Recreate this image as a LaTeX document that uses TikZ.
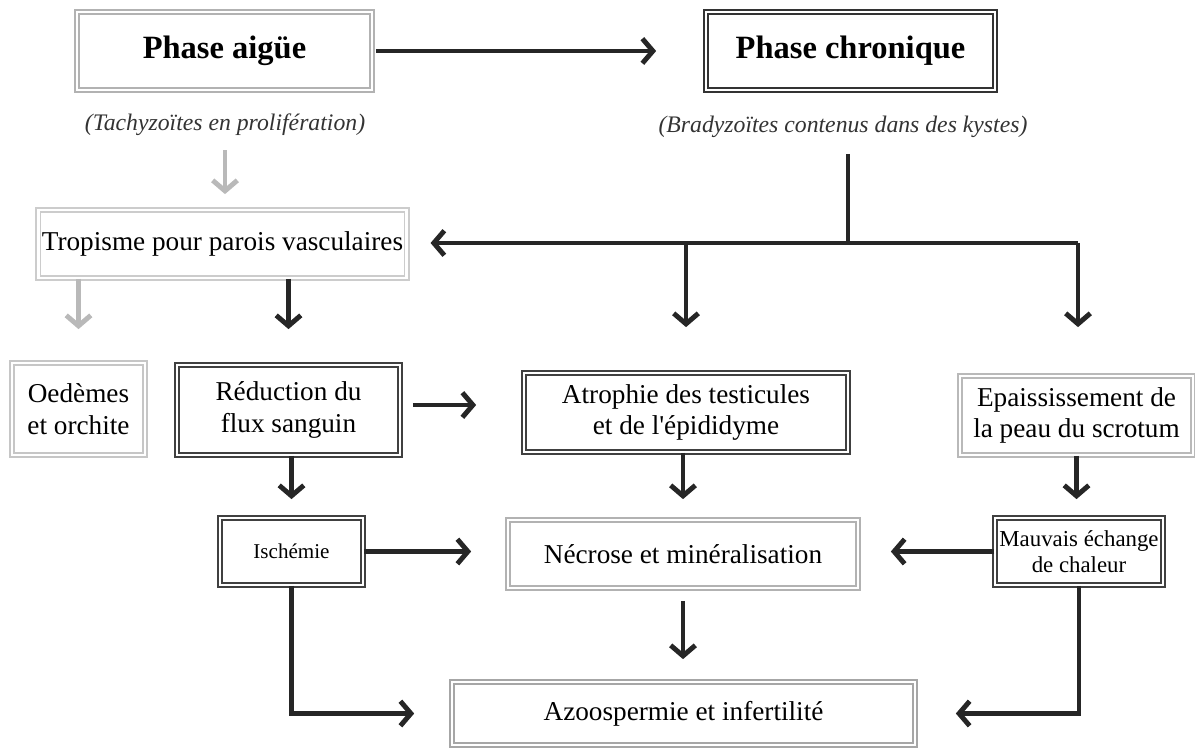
\documentclass[tikz,border=0pt]{standalone}
\usepackage{fontspec}
\setmainfont{Liberation Serif}
\usetikzlibrary{arrows.meta}

\tikzset{
  box/.style={draw=#1, double=white, double distance=1.4pt, line width=1pt,
    fill=white, align=center, inner sep=2pt, font=\fontsize{15.5}{18}\selectfont},
  box/.default=black!75,
  title/.style={font=\fontsize{18.5}{20}\selectfont\bfseries},
  arr/.style={line width=2.8pt, black!85, -{Straight Barb[length=6pt,width=14pt]}},
  garr/.style={arr, gray!55},
  ln/.style={line width=2.8pt, black!85},
}

\begin{document}
\begin{tikzpicture}[x=0.02cm, y=-0.02cm]
  \useasboundingbox (0,0) rectangle (1195,749);

  % phases
  \node[box=gray!60, title, minimum width=5.9cm, minimum height=1.56cm]
    (aigue) at (224.5,51) {Phase aigüe};
  \node[box=black!80, title, minimum width=5.78cm, minimum height=1.56cm]
    (chron) at (850.5,51) {Phase chronique};
  \node[font=\fontsize{13.5}{15}\selectfont\itshape, text=black!80]
    (tach) at (225,125) {(Tachyzoïtes en prolifération)};
  \node[font=\fontsize{13.5}{15}\selectfont\itshape, text=black!80]
    (brad) at (843,127) {(Bradyzoïtes contenus dans des kystes)};

  % boxes
  \node[box=gray!40, minimum width=7.3cm, minimum height=1.36cm]
    (trop) at (222.5,244) {Tropisme pour parois vasculaires};
  \node[box=gray!45, minimum width=2.66cm, minimum height=1.84cm]
    (oed) at (78.5,409) {Oedèmes\\et orchite};
  \node[box, minimum width=4.46cm, minimum height=1.8cm]
    (red) at (288.5,410) {Réduction du\\flux sanguin};
  \node[box, minimum width=6.48cm, minimum height=1.58cm]
    (atro) at (686,412.5) {Atrophie des testicules\\et de l\textquotesingle épididyme};
  \node[box=gray!55, minimum width=4.66cm, minimum height=1.58cm]
    (epai) at (1076.5,415.5) {Epaississement de\\la peau du scrotum};
  \node[box, minimum width=2.86cm, minimum height=1.34cm, font=\fontsize{12}{14}\selectfont]
    (isch) at (291.5,551.5) {Ischémie};
  \node[box=gray!60, minimum width=7cm, minimum height=1.36cm]
    (necr) at (683,554) {Nécrose et minéralisation};
  \node[box, minimum width=3.36cm, minimum height=1.34cm, font=\fontsize{13}{15}\selectfont, inner sep=1pt]
    (mauv) at (1079,551.5) {Mauvais échange\\de chaleur};
  \node[box=gray!70, minimum width=9.26cm, minimum height=1.26cm]
    (azoo) at (683.5,713.5) {Azoospermie et infertilité};

  \coordinate (jn) at (848,243);
  \coordinate (jr) at (1078,243);

  % connectors
  \draw[arr, shorten <=0.06cm, shorten >=0.98cm] (aigue) -- (chron);
  \draw[garr, shorten <=0.16cm, shorten >=0.3cm] (tach.south) -- (tach.south |- trop.north);
  \draw[ln, shorten <=0.2cm] (brad.south -| jn) -- (jn);
  \draw[arr, shorten >=0.46cm] (jr) -- (jr -| trop.east);
  \draw[arr, shorten >=0.9cm] (jr -| atro.north) -- (atro.north);
  \draw[arr, shorten >=0.96cm] (jr) -- (jr |- epai.north);
  \draw[garr, shorten >=0.66cm] (trop.south -| oed.north) -- (oed.north);
  \draw[arr, shorten >=0.7cm] (trop.south -| red.north) -- (red.north);
  \draw[arr, shorten <=0.24cm, shorten >=0.94cm] (red.east |- 0,405) -- (atro.west |- 0,405);
  \draw[arr, shorten >=0.36cm] (red.south -| isch.north) -- (isch.north);
  \draw[arr, shorten >=0.4cm] (atro.south -| necr.north) -- (necr.north);
  \draw[arr, shorten >=0.36cm] (epai.south) -- (epai.south |- mauv.north);
  \draw[arr, shorten >=0.72cm] (isch.east) -- (isch.east -| necr.west);
  \draw[arr, shorten >=0.64cm] (mauv.west) -- (mauv.west -| necr.east);
  \draw[arr, shorten <=0.24cm, shorten >=0.44cm] (necr.south) -- (necr.south |- azoo.north);
  \draw[arr, shorten >=0.74cm] (isch.south) |- (azoo.west);
  \draw[arr, shorten >=0.8cm] (mauv.south) |- (azoo.east);
\end{tikzpicture}
\end{document}
